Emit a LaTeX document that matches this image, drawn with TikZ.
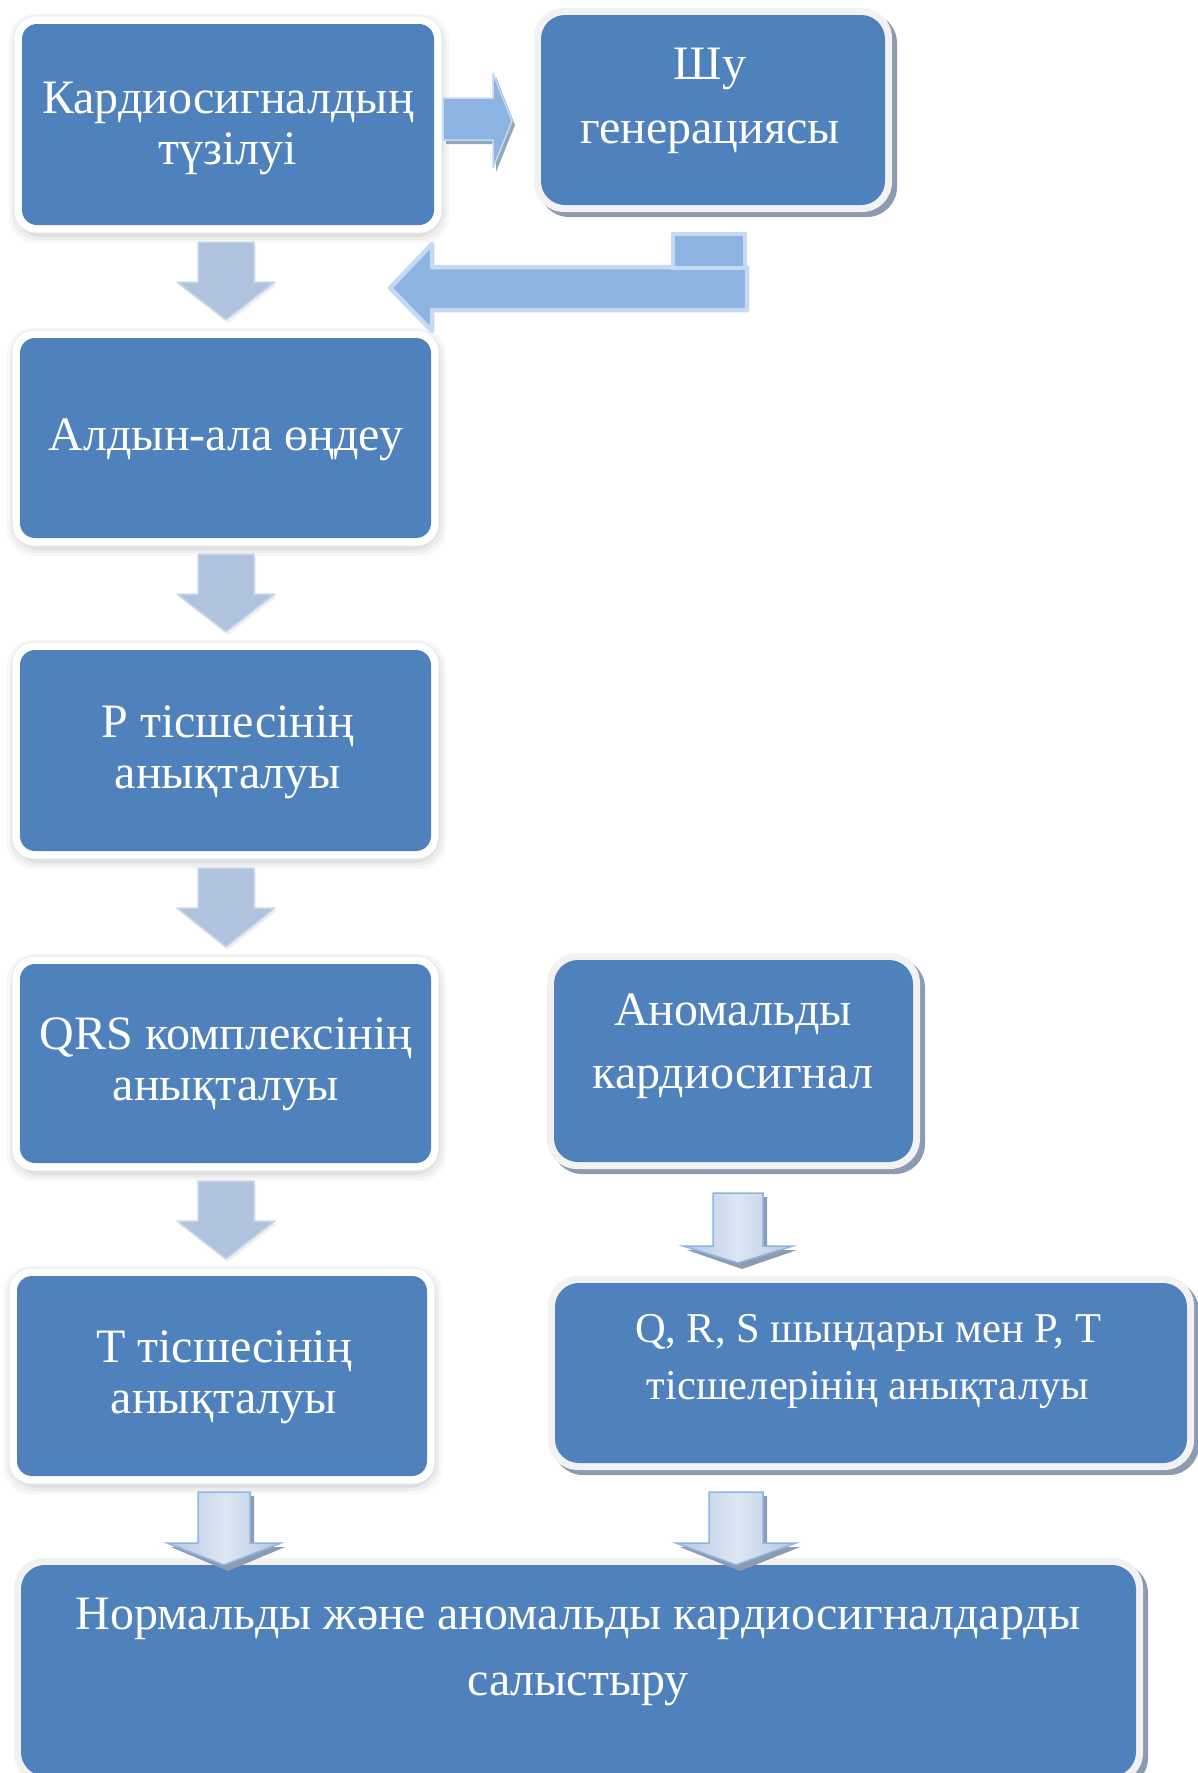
\documentclass[tikz,border=0pt]{standalone}
\usepackage{fontspec}
\setmainfont{Liberation Serif}
\definecolor{boxblue}{HTML}{4F81BD}
\definecolor{arrowblue}{HTML}{8DB3E2}
\definecolor{arrowedge}{HTML}{C6D9F1}
\definecolor{steelarrow}{HTML}{B0C3DE}
\definecolor{steeledge}{HTML}{C9D7EB}
\definecolor{gradlight}{HTML}{DDE7F3}
\definecolor{graddark}{HTML}{B2C7E3}
\definecolor{gradedge}{HTML}{8EB4E3}
\definecolor{shadowgray}{HTML}{8D9BB0}
\definecolor{framegray}{HTML}{F2F2F2}
\definecolor{arrowshadow}{HTML}{8FA9B5}
\tikzset{
  bluebox/.style={fill=boxblue, inner sep=0pt},
  boxtext/.style={text=white, align=center, inner sep=0pt},
  steeldown/.style={fill=steelarrow, draw=steeledge, line width=1.5pt, line join=round},
  graddown/.style={left color=graddark, right color=graddark, middle color=gradlight, draw=gradedge, line width=1.5pt},
}
% left-column box: name, x1, y1, x2, y2
\newcommand\leftbox[5]{%
  \foreach \s/\o in {14/0.03,11/0.04,8/0.05}{
    \fill[black, opacity=\o, rounded corners=26] (#2-\s+1,#3-\s+4) rectangle (#4+\s+1,#5+\s+4);
  }
  \fill[white, draw=black!10, line width=0.6pt, rounded corners=22] (#2-8,#3-8) rectangle (#4+8,#5+8);
  \node[bluebox, rounded corners=15, minimum width={(#4-#2)*1pt}, minimum height={(#5-#3)*1pt}] (#1) at ({(#2+#4)/2},{(#3+#5)/2}) {};
}
% right-column box with hard shadow: name, x1, y1, x2, y2
\newcommand\rightbox[5]{%
  \fill[shadowgray, rounded corners=30] (#2-7+5,#3-7+5) rectangle (#4+7+5,#5+7+5);
  \fill[framegray, rounded corners=30] (#2-7,#3-7) rectangle (#4+7,#5+7);
  \node[bluebox, rounded corners=24, minimum width={(#4-#2)*1pt}, minimum height={(#5-#3)*1pt}] (#1) at ({(#2+#4)/2},{(#3+#5)/2}) {};
}
% down block arrow: cx, ytop, yhead, ytip, body half, head half, style
\newcommand\downarrowshape[7]{%
  \path[#7] (#1-#5,#2) -- (#1+#5,#2) -- (#1+#5,#3) -- (#1+#6,#3) -- (#1,#4) -- (#1-#6,#3) -- (#1-#5,#3) -- cycle;
}
\begin{document}
\begin{tikzpicture}[x=1pt, y=-1pt, font=\fontsize{48}{51}\selectfont]
\useasboundingbox (0,0) rectangle (1198,1773);
\fill[white] (0,0) rectangle (1198,1773);

% ---------- boxes ----------
\leftbox{b1}{22}{24}{434}{225}
\rightbox{b2}{541}{15}{885}{205}
\leftbox{b3}{20}{338}{431}{538}
\leftbox{b4}{20}{650}{431}{851}
\leftbox{b5}{20}{964}{431}{1163}
\leftbox{b6}{17}{1276}{427}{1476}
\rightbox{b7}{554}{960}{913}{1162}
\rightbox{b8}{555}{1283}{1187}{1463}
\rightbox{b9}{21}{1565}{1136}{1776}

% ---------- texts ----------
\node[boxtext] (t1) at (228,128) {Кардиосигналдың\\түзілуі};
\node[boxtext, font=\fontsize{48}{64}\selectfont] (t2) at (710,101) {Шу\\генерациясы};
\node[boxtext] (t3) at (226,440) {Алдын-ала өңдеу};
\node[boxtext] (t4) at (228,752) {P тісшесінің\\анықталуы};
\node[boxtext] (t5) at (226,1064) {QRS комплексінің\\анықталуы};
\node[boxtext] (t6) at (224,1377) {T тісшесінің\\анықталуы};
\node[boxtext, font=\fontsize{48}{63}\selectfont] (t7) at (733,1046) {Аномальды\\кардиосигнал};
\node[boxtext, font=\fontsize{42.5}{57}\selectfont] (t8) at (868,1361) {Q, R, S шыңдары мен P, T\\тісшелерінің анықталуы};
\node[boxtext, font=\fontsize{48}{66}\selectfont] (t9) at (578,1652) {Нормальды және аномальды кардиосигналдарды\\салыстыру};

% ---------- right arrow b1 -> b2 ----------
\fill[arrowshadow] (446,102) -- (496,102) -- (496,77) -- (515,125) -- (496,172) -- (496,144) -- (446,144) -- cycle;
\filldraw[fill=arrowblue, draw=arrowedge, line width=1.5pt, line join=round]
  (443,98) -- (493,98) -- (493,73) -- (512,121) -- (493,168) -- (493,140) -- (443,140) -- cycle;

% ---------- bent arrow b2 -> column ----------
\filldraw[fill=arrowblue, draw=arrowedge, line width=4.5pt, line join=round]
  (747,267) -- (747,310) -- (432,310) -- (432,331) -- (390,288) -- (432,244) -- (432,267) -- cycle;
\filldraw[fill=arrowblue, draw=arrowedge, line width=4.5pt, line join=round]
  (673,234) rectangle (745,268);

% ---------- steel down arrows (left column) ----------
\foreach \t/\h/\p in {242/282/320, 554/594/632, 868/908/947, 1181/1221/1259}{
  \downarrowshape{228}{\t+3}{\h+3}{\p+3}{28}{49}{fill=black, opacity=0.06}
  \downarrowshape{226}{\t}{\h}{\p}{28}{49}{steeldown}
}

% ---------- gradient down arrows ----------
\downarrowshape{742}{1197}{1250}{1269}{25}{55}{fill=shadowgray}
\downarrowshape{738}{1193}{1246}{1263}{25}{55}{graddown}
\downarrowshape{228}{1496}{1547}{1571}{26}{57}{fill=shadowgray}
\downarrowshape{224}{1492}{1543}{1565}{26}{57}{graddown}
\downarrowshape{740}{1496}{1547}{1571}{27}{60}{fill=shadowgray}
\downarrowshape{736}{1492}{1543}{1565}{27}{60}{graddown}
\end{tikzpicture}
\end{document}
